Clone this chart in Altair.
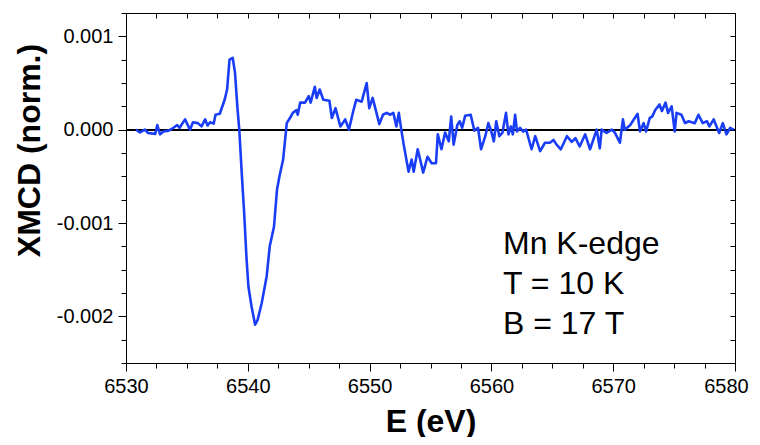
import altair as alt
import pandas as pd

FONT = "Liberation Sans"
BLUE = "#1a3ef5"

energy = [
    6530.82, 6531.15, 6531.56, 6531.8, 6532.4, 6532.57, 6532.8, 6533.07, 6533.5, 6533.9,
    6534.2, 6534.4, 6534.85, 6535.25, 6535.5, 6535.9, 6536.2, 6536.5, 6536.7, 6536.9,
    6537.2, 6537.35, 6537.7, 6538.1, 6538.3, 6538.5, 6538.76, 6538.95, 6539.14, 6539.3,
    6539.5, 6539.7, 6539.9, 6540.05, 6540.3, 6540.6, 6540.8, 6541.14, 6541.55, 6541.8,
    6542.15, 6542.4, 6542.6, 6542.9, 6543.2, 6543.46, 6543.7, 6544.0, 6544.1, 6544.3,
    6544.7, 6545.0, 6545.16, 6545.5, 6545.65, 6545.9, 6546.2, 6546.7, 6546.9, 6547.2,
    6547.6, 6548.0, 6548.3, 6548.66, 6548.9, 6549.35, 6549.76, 6549.97, 6550.25, 6550.8,
    6551.1, 6551.4, 6551.7, 6551.95, 6552.2, 6552.4, 6552.6, 6552.8, 6553.2, 6553.45,
    6553.62, 6553.95, 6554.15, 6554.4, 6554.75, 6555.1, 6555.45, 6555.6, 6555.9, 6556.2,
    6556.5, 6556.7, 6556.9, 6557.2, 6557.4, 6557.6, 6557.85, 6558.3, 6558.6, 6558.9,
    6559.15, 6559.5, 6559.75, 6559.95, 6560.2, 6560.4, 6560.65, 6560.9, 6561.2, 6561.4,
    6561.6, 6561.76, 6561.95, 6562.1, 6562.35, 6562.6, 6562.85, 6563.3, 6563.6, 6564.0,
    6564.4, 6564.8, 6565.1, 6565.35, 6565.7, 6566.2, 6566.6, 6566.9, 6567.25, 6567.7,
    6568.1, 6568.65, 6568.9, 6569.05, 6569.45, 6569.9, 6570.15, 6570.55, 6570.8, 6570.95,
    6571.4, 6572.0, 6572.2, 6572.5, 6572.7, 6573.0, 6573.2, 6573.45, 6573.8, 6574.0,
    6574.3, 6574.5, 6574.8, 6575.05, 6575.2, 6575.6, 6575.9, 6576.2, 6576.7, 6577.0,
    6577.35, 6577.7, 6577.9, 6578.25, 6578.7, 6579.0, 6579.3, 6579.6, 6579.9,
]

# XMCD in units of 1e-3 (normalized)
xmcd_milli = [
    0.0, -0.03, 0.0, -0.035, -0.045, 0.05, -0.05, -0.02, -0.01, 0.02,
    0.05, 0.02, 0.11, 0.0, 0.08, 0.07, 0.035, 0.11, 0.045, 0.08,
    0.065, 0.16, 0.17, 0.32, 0.43, 0.75, 0.77, 0.61, 0.25, 0.0,
    -0.46, -0.89, -1.39, -1.68, -1.89, -2.09, -2.04, -1.86, -1.57, -1.25,
    -1.04, -0.64, -0.5, -0.32, 0.07, 0.125, 0.18, 0.21, 0.16, 0.29,
    0.29, 0.36, 0.29, 0.46, 0.34, 0.43, 0.32, 0.31, 0.125, 0.23,
    0.035, 0.11, 0.0, 0.2, 0.32, 0.3, 0.5, 0.23, 0.34, 0.06,
    0.16, 0.18, 0.16, 0.18, 0.035, 0.18, 0.0, -0.16, -0.45, -0.32,
    -0.45, -0.21, -0.32, -0.46, -0.29, -0.36, -0.36, -0.05, -0.21, -0.03,
    -0.125, 0.14, -0.16, 0.05, 0.09, 0.02, 0.15, 0.16, -0.01, 0.02,
    -0.21, -0.07, 0.07, 0.0, -0.125, 0.09, -0.07, -0.035, 0.18, -0.05,
    0.035, -0.05, 0.16, -0.02, 0.02, -0.02, 0.0, -0.21, -0.07, -0.23,
    -0.14, -0.14, -0.11, -0.16, -0.21, -0.07, -0.13, -0.09, -0.18, -0.05,
    -0.21, 0.0, -0.2, 0.0, -0.035, 0.0, -0.035, -0.14, 0.11, 0.0,
    0.05, 0.17, -0.02, 0.07, -0.02, 0.125, 0.14, 0.21, 0.27, 0.2,
    0.29, 0.18, 0.25, -0.02, 0.18, 0.16, 0.07, 0.09, 0.07, 0.16,
    0.07, 0.09, 0.035, 0.11, -0.035, 0.07, -0.05, 0.02, 0.0,
]

x_major = [6530, 6540, 6550, 6560, 6570, 6580]
x_minor = [6530, 6532.5, 6535, 6537.5, 6540, 6542.5, 6545, 6547.5, 6550, 6552.5,
           6555, 6557.5, 6560, 6562.5, 6565, 6567.5, 6570, 6572.5, 6575, 6577.5, 6580]
y_major = [-0.002, -0.001, 0.0, 0.001]
y_minor = [-0.0025, -0.00225, -0.002, -0.00175, -0.0015, -0.00125, -0.001, -0.00075,
           -0.0005, -0.00025, 0.0, 0.00025, 0.0005, 0.00075, 0.001, 0.00125]
annotation_lines = ["Mn K-edge", "T = 10 K", "B = 17 T"]

df = pd.DataFrame({"E": energy, "XMCD": [v * 1e-3 for v in xmcd_milli]})

xscale = alt.Scale(domain=[6530, 6580], nice=False, zero=False)
yscale = alt.Scale(domain=[-0.0025, 0.00125], nice=False, zero=False)

base = alt.Chart(df)

zero_rule = base.mark_rule(color="black", strokeWidth=1.2).encode(
    y=alt.YDatum(0, axis=None, scale=yscale)
)

main_line = base.mark_line(color=BLUE, strokeWidth=2.6, strokeJoin="round").encode(
    x=alt.X(
        "E:Q",
        scale=xscale,
        axis=alt.Axis(
            orient="bottom", values=x_major, format="d", grid=False,
            tickSize=8, tickColor="black", domainColor="black",
            labelFont=FONT, labelFontSize=20, labelColor="black", labelPadding=5,
            labelFlush=False,
            labelOffset=alt.condition("datum.value == 6580", alt.value(-9), alt.value(0)),
            title="E (eV)", titleFont=FONT, titleFontSize=32, titleFontWeight="bold",
            titleColor="black", titleX=304.5, titleY=58, titleBaseline="middle",
            titleAlign="center",
        ),
    ),
    y=alt.Y(
        "XMCD:Q",
        scale=yscale,
        axis=alt.Axis(
            orient="left", values=y_major, grid=False,
            labelExpr="replace(format(datum.value, '.3f'), '\u2212', '-')",
            tickSize=8, tickColor="black", domainColor="black",
            labelFont=FONT, labelFontSize=20, labelColor="black", labelPadding=5,
            title="XMCD (norm.)", titleFont=FONT, titleFontSize=32, titleFontWeight="bold",
            titleColor="black", titleX=-97, titleY=137, titleBaseline="middle",
            titleAlign="center", titleAngle=-90,
        ),
    ),
)

minor_ticks = base.mark_line(strokeOpacity=0).encode(
    x=alt.X("E:Q", scale=xscale, axis=alt.Axis(
        orient="bottom", values=x_minor, labels=False, domain=False, grid=False,
        tickSize=5, tickColor="black", title="")),
    y=alt.Y("XMCD:Q", scale=yscale, axis=alt.Axis(
        orient="left", values=y_minor, labels=False, domain=False, grid=False,
        tickSize=5, tickColor="black", title="")),
)

mirror_ticks = base.mark_line(strokeOpacity=0).encode(
    x=alt.X("E:Q", scale=xscale, axis=alt.Axis(
        orient="top", values=x_minor, labels=False, domain=False, grid=False,
        tickSize=5, offset=-5, tickColor="black", title="")),
    y=alt.Y("XMCD:Q", scale=yscale, axis=alt.Axis(
        orient="right", values=y_minor, labels=False, domain=False, grid=False,
        tickSize=5, offset=-5, tickColor="black", title="")),
)

annotation = alt.Chart(alt.Data(values=[{}])).mark_text(
    text=annotation_lines, align="left", baseline="alphabetic",
    font=FONT, fontSize=32, lineHeight=40, color="black",
).encode(x=alt.value(377), y=alt.value(241))

chart = (
    alt.layer(zero_rule, main_line, minor_ticks, mirror_ticks, annotation)
    .resolve_axis(x="independent", y="independent")
    .properties(
        width=609, height=350,
        autosize=alt.AutoSizeParams(type="none"),
        padding={"left": 118, "top": 5, "right": 17, "bottom": 74},
        background="white",
    )
    .configure_view(stroke="black", strokeWidth=1)
)

chart.save("out.html", embed_options={"renderer": "svg", "actions": False})
